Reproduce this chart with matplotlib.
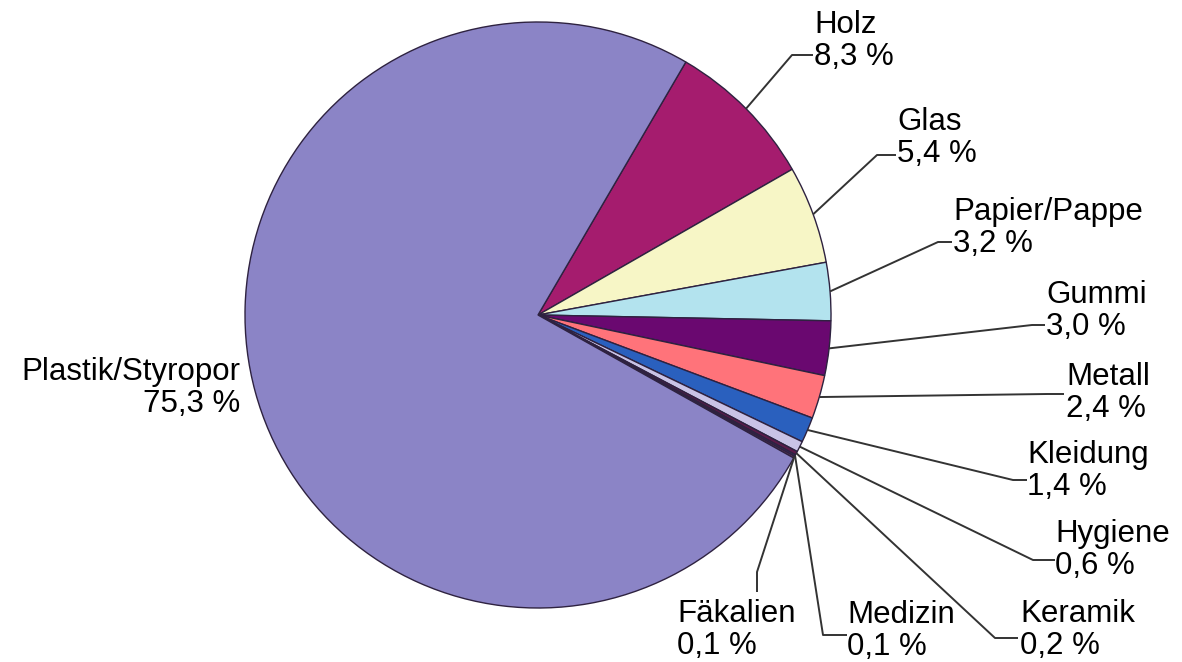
import numpy as np
import matplotlib
matplotlib.use("Agg")
import matplotlib.pyplot as plt

plt.rcParams.update({
    "font.family": ["Liberation Sans", "DejaVu Sans"],
    "font.size": 22.5,
})

# Anteile in Prozent, im Uhrzeigersinn ab "Holz"
kategorien = ["Holz", "Glas", "Papier/Pappe", "Gummi", "Metall", "Kleidung",
              "Hygiene", "Keramik", "Medizin", "Fäkalien", "Plastik/Styropor"]
anteile = [8.3, 5.4, 3.2, 3.0, 2.4, 1.4, 0.6, 0.2, 0.1, 0.1, 75.3]
farben = ["#A51C6E", "#F7F6C6", "#B3E3EE", "#6A0870", "#FF737A", "#2A60BE",
          "#C9C3E6", "#5B1A4A", "#3D2B6B", "#7A3B5E", "#8B84C6"]

# Beschriftungen (Pixelkoordinaten, y nach unten): x, Grundlinie der 1. Zeile
text_pos = [(814, 33), (897, 130), (953, 220), (1046, 303), (1066, 385),
            (1027, 463), (1055, 542), (1020, 622), (847, 623), (677, 622),
            (240, 380)]
# Hilfslinien: Knickpunkt und Endpunkt (None = keine Linie)
knick = [(792, 55), (877, 155), (938, 242), (1032, 325), (1047, 394),
         (1013, 480), (1033, 560), (995, 638), (823, 635), (757, 572), None]
ende = [(813, 55), (896, 155), (952, 242), (1045, 325), (1064, 394),
        (1027, 480), (1055, 560), (1018, 638), (847, 635), (757, 592), None]

W, H = 1182, 662
zentrum = (538, 315)
radius = 293

fig = plt.figure(figsize=(W / 100, H / 100), dpi=100)
ax = fig.add_axes([0, 0, 1, 1])

# y-Achse invertiert -> gegen den Uhrzeigersinn in Daten = im Uhrzeigersinn am Bild
wedges, _ = ax.pie(anteile, colors=farben, startangle=-59.7, counterclock=True,
                   center=zentrum, radius=radius,
                   wedgeprops=dict(edgecolor="#2E2240", linewidth=1.0))
ax.set_xlim(0, W)
ax.set_ylim(H, 0)
ax.set_aspect("equal")
ax.axis("off")

for w, name, wert, (tx, ty), k, e in zip(wedges, kategorien, anteile,
                                          text_pos, knick, ende):
    wert_txt = f"{wert:.1f}".replace(".", ",") + " %"
    ha = "right" if k is None else "left"
    ax.text(tx, ty, name, ha=ha, va="baseline", color="black")
    ax.text(tx, ty + 32, wert_txt, ha=ha, va="baseline", color="black")
    if k is None:
        continue
    mitte = np.deg2rad((w.theta1 + w.theta2) / 2)
    sx = zentrum[0] + radius * np.cos(mitte)
    sy = zentrum[1] + radius * np.sin(mitte)
    ax.plot([sx, k[0], e[0]], [sy, k[1], e[1]], color="#333333",
            linewidth=1.4, solid_capstyle="butt")

plt.savefig("out.png", dpi=100)
plt.close()
